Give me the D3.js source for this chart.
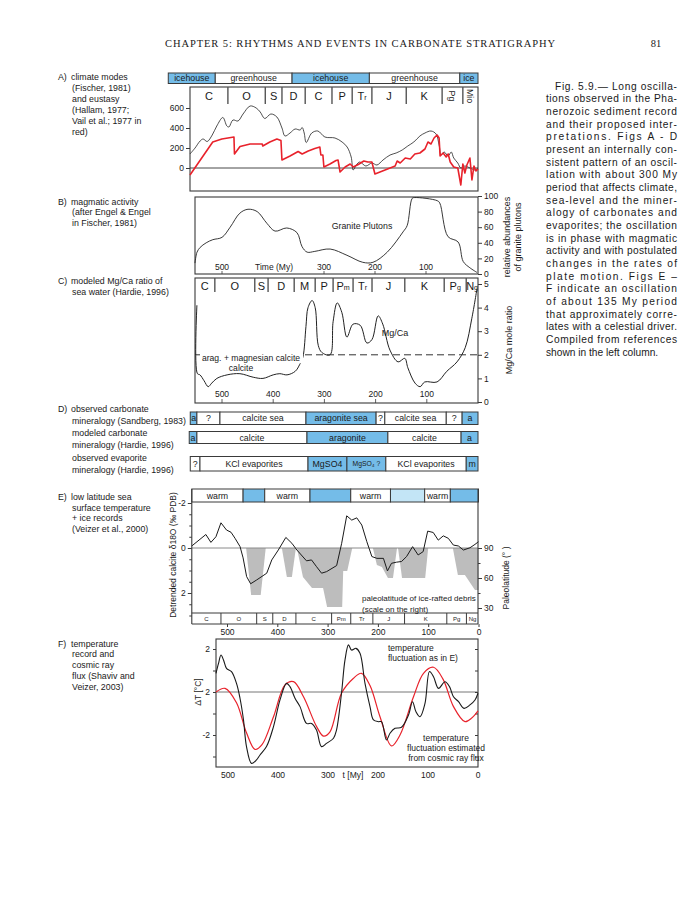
<!DOCTYPE html>
<html><head><meta charset="utf-8">
<script src="https://cdn.jsdelivr.net/npm/d3@7"></script>
<style>body{margin:0;background:#fff}</style>
</head><body><svg id="c" width="695" height="900"></svg>
<script>
// ---------------- DATA ----------------
const headerTitle = "CHAPTER 5:  RHYTHMS AND EVENTS IN CARBONATE STRATIGRAPHY";
const pageNumber = "81";

const notesA = ["climate modes","(Fischer, 1981)","and eustasy","(Hallam, 1977;","Vail et al.; 1977 in","red)"];
const notesB = ["magmatic activity","(after Engel & Engel","in Fischer, 1981)"];
const notesC = ["modeled Mg/Ca ratio of","sea water (Hardie, 1996)"];
const notesD = ["observed carbonate","mineralogy (Sandberg, 1983)","modeled carbonate","mineralogy (Hardie, 1996)","observed evaporite","mineralogy (Hardie, 1996)"];
const notesE = ["low latitude sea","surface temperature","+ ice records","(Veizer et al., 2000)"];
const notesF = ["temperature","record and","cosmic ray","flux (Shaviv and","Veizer, 2003)"];

const captionLines = ["Fig. 5.9.— Long oscilla-","tions observed in the Pha-","nerozoic sediment record","and their proposed inter-","pretations.  Figs A - D","present an internally con-","sistent pattern of an oscil-","lation with about 300 My","period that affects climate,","sea-level and the miner-","alogy of carbonates and","evaporites; the oscillation","is in phase with magmatic","activity and with postulated","changes in the rates of","plate motion.  Figs E –","F indicate an oscillation","of about 135 My period","that approximately corre-","lates with a celestial driver.","Compiled from references","shown in the left column."];

// Panel A
const modesA = ["icehouse","greenhouse","icehouse","greenhouse","ice"];
const modeBoundsA = [613,520,368,215,36,0];
const modeColdA = [true,false,true,false,true];
const periodsA = ["C","O","S","D","C","P","Tr","J","K","Pg","Mio"];
const periodBoundsA = [570,495,421,388,342,289,249,210,142,71,30,0];
const seaTicksA = [0,200,400,600];
const hallamAge = [570,560,550,544,536,526,517,505,497,493,485,475,465,451,439,431,422,410,398,388,382,372,362,352,348,344,340,329,317,303,283,269,259,251,247,241,234,222,210,200,188,174,162,150,139,127,115,105,93,83,77,73,67,59,53,48,40,34,26,16,6,0];
const hallamSea = [140,200,270,290,265,330,420,505,420,410,480,470,540,620,600,560,495,540,510,400,320,350,390,380,405,350,255,350,370,310,300,260,210,110,-20,30,60,20,50,30,80,130,150,180,220,260,320,350,370,340,230,130,160,120,160,100,50,0,20,0,-20,0];
const vailAge = [570,525,507,483,482,471,451,427,426,412,398,390,388,372,356,348,336,323,313,311,307,305,293,281,277,273,263,253,247,237,226,218,210,204,164,160,154,144,134,125,115,105,99,93,87,81,77,75,69,63,59,55,48,40,34,30,26,22,16,12,8,4,0];
const vailSea = [-70,260,290,310,140,215,240,240,220,260,290,275,80,120,165,140,170,195,210,130,130,10,40,75,80,-40,10,40,10,35,70,60,60,-60,20,70,50,100,90,140,150,190,260,240,300,330,300,120,150,110,140,60,10,0,-170,40,-50,30,100,-120,20,-30,-10];

// Panel B
const graniteTicks = [0,20,40,60,80,100];
const graniteTimeLabels = [500,300,200,100];
const graniteAge = [553,549,543,531,518,500,484,465,449,431,412,396,373,353,343,333,318,288,255,224,204,176,145,137,127,122,78,73,57,37,27,14,0];
const granitePct = [14,28,34,40,44,47,60,78,83,80,65,55,59,53,35,28,29,32,24,15,15,28,54,62,97,98,94,91,48,41,16,8,2];

// Panel C
const periodsC = ["C","O","S","D","M","P","Pm","Tr","J","K","Pg","Ng"];
const periodBoundsC = [553,514,436,410,359,318,283,244,207,143,66,23,0];
const mgcaTicks = [0,1,2,3,4,5];
const mgcaTimeLabels = [500,400,300,200,100];
const mgcaAge = [549,548,543,535,527,520,510,490,465,439,420,400,387,373,357,348,342,336,332,324,318,312,305,289,283,275,266,256,244,230,217,207,195,186,172,156,143,137,123,113,104,80,61,41,25,12,2];
const mgcaRatio = [4.1,1.2,1.15,0.9,0.65,0.8,1.0,1.15,1.2,1.05,1.0,1.15,1.2,1.15,1.3,1.6,1.9,3.2,4.0,4.3,4.0,2.4,2.1,2.0,3.4,4.2,3.8,2.75,3.3,3.25,2.5,2.65,3.65,3.3,2.2,1.7,1.85,1.45,0.8,0.65,0.85,0.85,1.3,1.7,2.3,3.55,4.8];

// Panel D
const carbObsLabels = ["a","?","calcite sea","aragonite sea","?","calcite sea","?","a"];
const carbObsBounds = [562,549,504,336,199,182,62,31,0];
const carbObsArag = [1,0,0,1,0,0,0,1];
const carbModLabels = ["a","calcite","aragonite","calcite","a"];
const carbModBounds = [564,549,334,176,33,0];
const carbModArag = [1,0,1,0,1];
const evapLabels = ["?","KCl evaporites","MgSO4","MgSO₄ ?","KCl evaporites","m"];
const evapBounds = [562,543,332,256,180,23,0];
const evapMg = [0,0,1,1,0,1];

// Panel E
const warmLabels = ["warm","","warm","","warm","","warm",""];
const warmBounds = [570,468,425,335,254,175,107,56,0];
const warmKind = ["warm","cold","warm","cold","warm","cool","warm","cold"];
const periodsE = ["C","O","S","D","C","Pm","Tr","J","K","Pg","Ng"];
const periodBoundsE = [570,512,441,409,363,292,254,210,147,63,24,0];
const d18OTicks = [-2,0,2];
const latTicks = [90,60,30];
const timeTicksE = [500,400,300,200,100,0];
const d18OAge = [570,542,532,522,512,501,492,484,474,468,461,453,441,421,411,398,383,371,361,342,332,322,312,302,282,272,262,252,242,232,222,212,202,189,181,173,163,153,143,131,120,110,101,90,80,70,60,50,40,30,17,7,0];
const d18OVal = [-0.09,-0.6,-0.25,-0.5,-1.12,-0.8,-0.7,-0.43,-0.06,0.44,1.27,1.59,1.42,1.12,0.53,0.09,-0.47,-0.21,0.09,0.57,0.53,0.83,1.12,1.05,0.78,-0.21,-1.43,-1.24,-1.34,-1.02,-0.28,0.38,0.46,0.46,1.02,0.68,0.63,0.6,0.38,-0.06,0.31,0.16,-0.75,-0.69,-0.35,-0.54,-0.43,-0.13,-0.09,0.09,-0.01,-0.16,-0.28];
const iceAges = [[462,452,433,423],[391,381,371,363],[361,349,331,309,301,271,269,261,251],[210,202,192,180,170,162],[160,152,106,100],[51,41,27,7,0,0]];
const iceLats = [[90,43,43,90],[90,61,61,90],[90,61,50,50,31,31,67,67,90],[90,73,71,60,60,90],[90,60,60,90],[90,63,63,48,48,90]];

// Panel F
const tempTickValues = [-2,0,2];
const tempTickLabels = ["-2","2","2"];
const timeLabelsF = ["500","400","300","200","100","0"];
const timeValuesF = [500,400,300,200,100,0];
const tempAge = [524,519,514,509,503,493,483,476,469,463,453,443,436,423,409,396,383,376,366,356,343,333,323,313,303,289,283,273,266,259,253,244,236,226,216,209,199,193,183,176,166,153,139,131,124,116,106,97,89,79,66,57,49,39,28,16,6,0];
const tempVal = [0.87,1.33,1.72,1.49,1.1,0.95,0.4,-0.29,-1.3,-2.54,-3.32,-3.16,-2.93,-2.54,-1.61,-0.37,0.4,0.25,-0.29,-0.68,-1.46,-1.46,-1.77,-2.54,-2.39,-2.15,-1.77,-0.06,1.49,2.19,1.95,2.03,1.8,0.4,-0.68,-1.3,-1.38,-1.38,-2.23,-1.92,-1.69,-1.64,-1.07,-0.45,-0.92,-1.15,-0.53,0.95,0.71,0.17,0.48,0.25,-0.22,-0.45,-0.76,-0.6,-0.37,-0.06];
const crfAge = [524,506,483,463,446,432,409,386,369,349,323,309,296,273,249,233,216,196,173,156,129,109,89,70,49,26,12,0];
const crfVal = [0,0.17,-0.5,-1.9,-2.67,-2.45,-1.15,0.33,0.48,-0.22,-1.6,-2.05,-1.85,-0.06,0.64,0.87,0.3,-1.15,-2.51,-2.0,-0.22,0.87,1.15,0.6,-0.68,-1.38,-1.2,-0.88];

// ---------------- DRAWING ----------------
const FONT = '"Liberation Sans", Arial, Helvetica, sans-serif';
const BLUE = "#74bce8", LBLUE = "#c3e5f6", RED = "#e8222b", INK = "#1a1a1a", EDGE = "#3a3a3a";
const FS = 8.8, TICK = 8.5;
const svg = d3.select("#c");
svg.append("rect").attr("width",695).attr("height",900).attr("fill","#fff");

function T(x,y,s,o={}){
  const t = svg.append("text").attr("x",x).attr("y",y)
    .attr("font-family",o.family||FONT).attr("font-size",o.size||FS)
    .attr("fill",o.fill||INK).attr("text-anchor",o.anchor||"start")
    .attr("dy",o.dy||"0.35em").text(s);
  if(o.rotate) t.attr("transform",`rotate(${o.rotate},${x},${y})`);
  if(o.len) t.attr("textLength",o.len).attr("lengthAdjust","spacing");
  return t;
}
function hline(x1,x2,y,c=EDGE,w=1){svg.append("line").attr("x1",x1).attr("x2",x2).attr("y1",y).attr("y2",y).attr("stroke",c).attr("stroke-width",w);}
function vline(x,y1,y2,c=EDGE,w=1){svg.append("line").attr("x1",x).attr("x2",x).attr("y1",y1).attr("y2",y2).attr("stroke",c).attr("stroke-width",w);}
function frame(x1,y1,x2,y2){svg.append("rect").attr("x",x1).attr("y",y1).attr("width",x2-x1).attr("height",y2-y1).attr("fill","none").attr("stroke",EDGE).attr("stroke-width",1.1);}
function note(tag,lines,ys){ T(58,ys[0],tag); lines.forEach((l,i)=>T(i===0?71:72,ys[i],l)); }
function styleAxis(g,size=TICK){
  g.select(".domain").remove();
  g.selectAll(".tick line").attr("stroke",EDGE);
  g.selectAll(".tick text").attr("font-family",FONT).attr("font-size",size).attr("fill",INK);
}
function periodLabel(x,y,name,size,rot){
  const t = svg.append("text").attr("x",x).attr("y",y).attr("font-family",FONT).attr("font-size",size)
    .attr("fill",INK).attr("text-anchor","middle").attr("dy","0.35em");
  if(rot){ t.attr("transform",`rotate(90,${x},${y})`).attr("font-size",size*0.8).text(name); return; }
  if(name.length===2){
    t.append("tspan").text(name[0]);
    t.append("tspan").attr("font-size",size*0.65).text(name[1]);
  } else t.text(name);
}
function segBar(x,bounds,labels,fills,y1,y2,size){
  labels.forEach((lab,i)=>{
    const a=x(bounds[i]), b=x(bounds[i+1]);
    svg.append("rect").attr("x",a).attr("y",y1).attr("width",b-a).attr("height",y2-y1)
      .attr("fill",fills[i]).attr("stroke",EDGE).attr("stroke-width",1);
    if(lab) T((a+b)/2,(y1+y2)/2,lab,{anchor:"middle",size:size});
  });
}

// Header
T(360,43,headerTitle,{family:'"Liberation Serif","Times New Roman",serif',size:10.5,anchor:"middle",len:390});
T(656,43,pageNumber,{family:'"Liberation Serif","Times New Roman",serif',size:10.5,anchor:"middle"});

// Caption (justified)
captionLines.forEach((l,i)=>{
  const y = 86 + i*12.67;
  const x0 = i===0 ? 555 : 546;
  const last = i===captionLines.length-1;
  T(x0,y,l,{size:10.2,len: last? null : 677-x0});
});

// ---------- Panel A ----------
note("A)",notesA,[77,88,99,110,121,132]);
const xA = d3.scaleLinear().domain([570,0]).range([190,478]);
const yA = d3.scaleLinear().domain([0,600]).range([168,108]);
modesA.forEach((m,i)=>{
  const a=xA(modeBoundsA[i]), b=xA(modeBoundsA[i+1]);
  svg.append("rect").attr("x",a).attr("y",73).attr("width",b-a).attr("height",10.5)
    .attr("fill",modeColdA[i]?BLUE:"#fff").attr("stroke",EDGE).attr("stroke-width",1);
  T((a+b)/2,78.3,m,{anchor:"middle",size:FS});
});
frame(190,87,478,191);
periodsA.forEach((p,i)=>{
  const a=xA(periodBoundsA[i]), b=xA(periodBoundsA[i+1]);
  if(i>0) vline(a,87,104,"#555",1.4);
  periodLabel((a+b)/2,96,p,11,p==="Pg"||p==="Mio");
});
svg.append("g").attr("transform","translate(190,0)")
  .call(d3.axisLeft(yA).tickValues(seaTicksA).tickSize(4).tickPadding(2)).call(g=>styleAxis(g));
hline(190,478,yA(0),"#333",0.9);
const lineA = d3.line().x(d=>xA(d[0])).y(d=>yA(d[1]));
svg.append("path").datum(d3.zip(hallamAge,hallamSea))
  .attr("d",d3.line().x(d=>xA(d[0])).y(d=>yA(d[1])).curve(d3.curveCatmullRom.alpha(0.5)))
  .attr("fill","none").attr("stroke","#222").attr("stroke-width",0.8);
svg.append("path").datum(d3.zip(vailAge,vailSea))
  .attr("d",lineA)
  .attr("fill","none").attr("stroke",RED).attr("stroke-width",1.6).attr("stroke-linejoin","round");

// ---------- Panel B ----------
note("B)",notesB,[202,212,223]);
const xB = d3.scaleLinear().domain([0,500]).range([477,222]);
const yB = d3.scaleLinear().domain([0,100]).range([274,196]);
frame(195,197,478,274);
svg.append("g").attr("transform","translate(478,0)")
  .call(d3.axisRight(yB).tickValues(graniteTicks).tickSize(4).tickPadding(2)).call(g=>styleAxis(g));
graniteTimeLabels.forEach(v=>{ T(xB(v),267,String(v),{anchor:"middle",size:TICK}); vline(xB(v),271,274,EDGE,0.8); });
T(xB(398),267,"Time (My)",{anchor:"middle",size:TICK});
svg.append("path").datum(d3.zip(graniteAge,granitePct))
  .attr("d",d3.line().x(d=>xB(d[0])).y(d=>yB(d[1])).curve(d3.curveCatmullRom.alpha(0.5)))
  .attr("fill","none").attr("stroke","#222").attr("stroke-width",0.9);
T(362,226,"Granite Plutons",{anchor:"middle"});
T(507,237,"relative abundances",{anchor:"middle",size:9,rotate:-90});
T(518,237,"of granite plutons",{anchor:"middle",size:9,rotate:-90});

// ---------- Panel C ----------
note("C)",notesC,[281,292]);
const xC = d3.scaleLinear().domain([0,500]).range([478,222]);
const yC = d3.scaleLinear().domain([0,5]).range([402,284]);
frame(195,278,478,403);
periodsC.forEach((p,i)=>{
  const a=xC(periodBoundsC[i]), b=xC(periodBoundsC[i+1]);
  if(i>0) vline(a,278,292,"#555",1.4);
  periodLabel((a+b)/2,286,p,11,false);
});
svg.append("g").attr("transform","translate(478,0)")
  .call(d3.axisRight(yC).tickValues(mgcaTicks).tickSize(4).tickPadding(2).tickFormat(d3.format("d"))).call(g=>styleAxis(g));
mgcaTimeLabels.forEach(v=>{ T(xC(v),394,String(v),{anchor:"middle",size:TICK}); vline(xC(v),399,403,EDGE,0.8); });
svg.append("line").attr("x1",195).attr("x2",478).attr("y1",yC(2)).attr("y2",yC(2))
  .attr("stroke","#333").attr("stroke-width",1).attr("stroke-dasharray","7,4");
svg.append("path").datum(d3.zip(mgcaAge,mgcaRatio))
  .attr("d",d3.line().x(d=>xC(d[0])).y(d=>yC(d[1])).curve(d3.curveCatmullRom.alpha(0.5)))
  .attr("fill","none").attr("stroke","#222").attr("stroke-width",1);
svg.append("rect").attr("x",200).attr("y",yC(2)-1.5).attr("width",103).attr("height",10).attr("fill","#fff");
T(251,yC(2)+3.5,"arag. + magnesian calcite",{anchor:"middle",size:8.6});
T(241,yC(2)+13.5,"calcite",{anchor:"middle",size:8.6});
T(395,333,"Mg/Ca",{anchor:"middle",size:9});
T(509,340,"Mg/Ca mole ratio",{anchor:"middle",size:9,rotate:-90});

// ---------- Panel D ----------
note("D)",notesD,[409,421,433,445,458,470]);
segBar(xC,carbObsBounds,carbObsLabels,carbObsArag.map(d=>d?BLUE:"#fff"),412,424.5,FS);
segBar(xC,carbModBounds,carbModLabels,carbModArag.map(d=>d?BLUE:"#fff"),431.5,443.5,FS);
segBar(xC,evapBounds,evapLabels,evapMg.map(d=>d?BLUE:"#fff"),456.5,471,FS);
svg.selectAll("text").filter(function(){return this.textContent==="MgSO₄ ?";}).attr("font-size",6.8);

// ---------- Panel E ----------
note("E)",notesE,[497,508,518,529]);
const xE = d3.scaleLinear().domain([0,500]).range([478.5,227]);
const yE = d3.scaleLinear().domain([-2,2]).range([503,593]);
const yLat = d3.scaleLinear().domain([90,30]).range([548,608]);
segBar(xE,warmBounds,warmLabels,warmKind.map(k=>k==="warm"?"#fff":k==="cool"?LBLUE:BLUE),489,502,FS);
const iceLine = d3.line().x(d=>xE(d[0])).y(d=>yLat(d[1]));
iceAges.forEach((ages,i)=>{
  svg.append("path").datum(d3.zip(ages,iceLats[i]))
    .attr("d",d=>iceLine(d)+"Z")
    .attr("fill","#bdbdbd").attr("stroke","none");
});
hline(xE(570),478,yE(0),"#8a8a8a",1);
svg.append("path").datum(d3.zip(d18OAge,d18OVal))
  .attr("d",d3.line().x(d=>xE(d[0])).y(d=>yE(d[1])))
  .attr("fill","none").attr("stroke","#1a1a1a").attr("stroke-width",1);
vline(xE(570),489,624,EDGE,1.1); vline(478,489,624,EDGE,1.1);
hline(xE(570),478,613,EDGE,1); hline(xE(570),478,624,EDGE,1.1);
periodsE.forEach((p,i)=>{
  const a=xE(periodBoundsE[i]), b=xE(periodBoundsE[i+1]);
  if(i>0) vline(a,613,624,EDGE,1);
  T((a+b)/2,618.8,p,{anchor:"middle",size:6});
});
svg.append("g").attr("transform",`translate(${xE(570)},0)`)
  .call(d3.axisLeft(yE).tickValues(d3.range(-2,3.01,0.5)).tickSize(4).tickPadding(2)
    .tickFormat(d=>d18OTicks.includes(d)? (d<0?"-"+Math.abs(d):String(d)) : ""))
  .call(g=>styleAxis(g))
  .call(g=>g.selectAll(".tick line").attr("x2",d=>d18OTicks.includes(d)?-4:-2.5));
svg.append("g").attr("transform","translate(478,0)")
  .call(d3.axisRight(yLat).tickValues([90,75,60,45,30]).tickSize(4).tickPadding(2)
    .tickFormat(d=>latTicks.includes(d)?String(d):""))
  .call(g=>styleAxis(g))
  .call(g=>g.selectAll(".tick line").attr("x2",d=>latTicks.includes(d)?4:2.5));
svg.append("g").attr("transform","translate(0,624)")
  .call(d3.axisBottom(xE).tickValues(timeTicksE).tickSize(3).tickPadding(2)).call(g=>styleAxis(g));
T(362,598,"paleolatitude of ice-rafted debris",{size:8});
T(362,609,"(scale on the right)",{size:8});
T(173,555,"Detrended calcite δ18O (‰ PDB)",{anchor:"middle",size:8.5,rotate:-90});
T(506,578,"Paleolatitude (° )",{anchor:"middle",size:8.5,rotate:-90});

// ---------- Panel F ----------
note("F)",notesF,[644,654,665,676,687]);
const xF = d3.scaleLinear().domain([0,500]).range([478,228]);
const yF = d3.scaleLinear().domain([-2,2]).range([735,649]);
frame(216,639,478,767);
hline(216,478,yF(0),"#777",1);
svg.append("g").attr("transform","translate(216,0)")
  .call(d3.axisLeft(yF).tickValues(d3.range(-3,2.01,1)).tickSize(3).tickPadding(3)
    .tickFormat(d=>{const k=tempTickValues.indexOf(d); return k>=0?tempTickLabels[k]:"";}))
  .call(g=>styleAxis(g));
svg.append("g").attr("transform","translate(478,0)")
  .call(d3.axisLeft(yF).tickValues(d3.range(-3,2.01,1)).tickSize(3).tickFormat(""))
  .call(g=>styleAxis(g));
timeValuesF.forEach((v,i)=>T(xF(v),775,timeLabelsF[i],{anchor:"middle",size:TICK}));
T(353,775,"t [My]",{anchor:"middle",size:TICK});
svg.append("path").datum(d3.zip(crfAge,crfVal))
  .attr("d",d3.line().x(d=>xF(d[0])).y(d=>yF(d[1])).curve(d3.curveCatmullRom.alpha(0.5)))
  .attr("fill","none").attr("stroke",RED).attr("stroke-width",1.2);
svg.append("path").datum(d3.zip(tempAge,tempVal))
  .attr("d",d3.line().x(d=>xF(d[0])).y(d=>yF(d[1])).curve(d3.curveCatmullRom.alpha(0.5)))
  .attr("fill","none").attr("stroke","#1a1a1a").attr("stroke-width",1.1);
T(388,648,"temperature",{size:8.5});
T(388,658,"fluctuation as in E)",{size:8.5});
T(446,738,"temperature",{anchor:"middle",size:8.5});
T(446,748,"fluctuation estimated",{anchor:"middle",size:8.5});
T(446,758,"from cosmic ray flux",{anchor:"middle",size:8.5});
T(198,692,"ΔT [°C]",{anchor:"middle",size:8.5,rotate:-90});
</script></body></html>
